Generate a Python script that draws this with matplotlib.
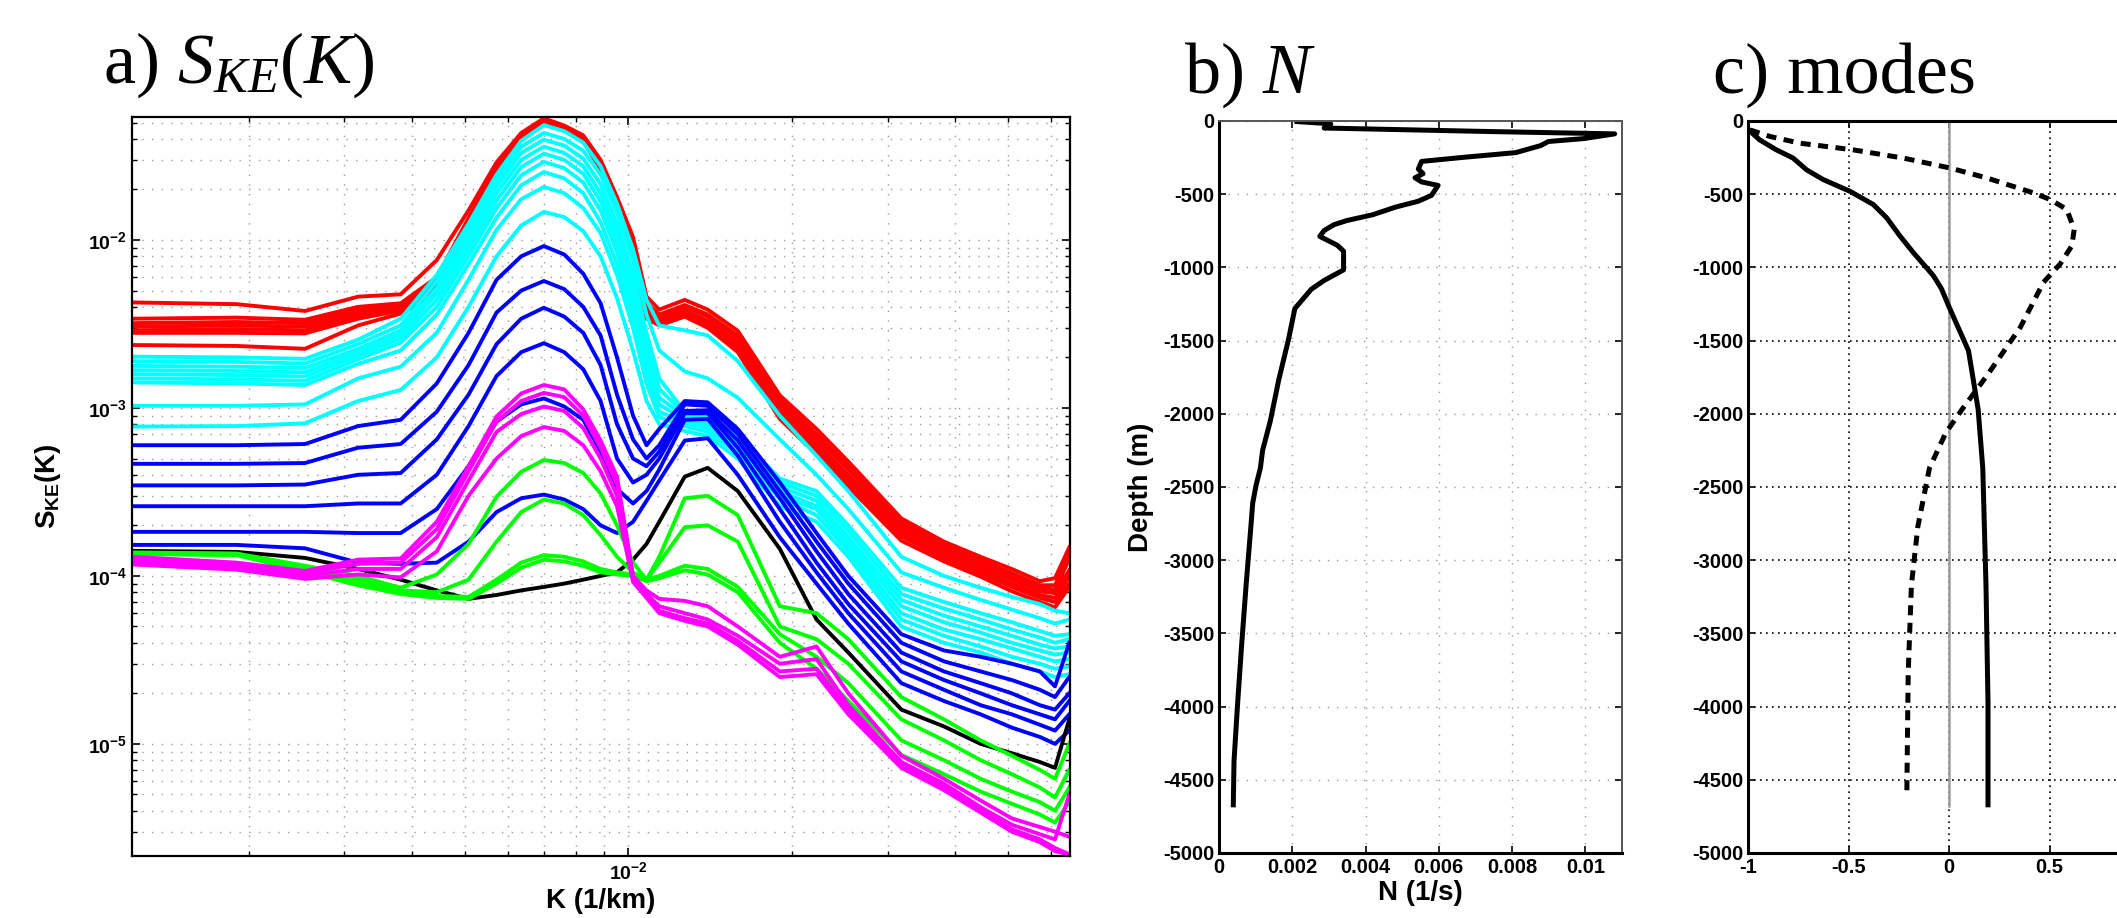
import numpy as np
import matplotlib
matplotlib.use("Agg")
import matplotlib.pyplot as plt
from matplotlib.ticker import LogLocator, FixedLocator, FuncFormatter, NullFormatter

plt.rcParams["font.family"] = "Liberation Sans"
plt.rcParams["mathtext.fontset"] = "custom"
plt.rcParams["mathtext.rm"] = "Liberation Serif"
plt.rcParams["mathtext.it"] = "Liberation Serif:italic"
plt.rcParams["mathtext.bf"] = "Liberation Sans:bold"
plt.rcParams["mathtext.fallback"] = "stix"
plt.rcParams["axes.unicode_minus"] = False

# ---- panel a: spectra S_KE(K), K in 1e-3 1/km, S in 1e-4 ----
K_SAMPLES = [1.22, 1.90, 2.54, 3.18, 3.81, 4.44, 5.08, 5.72, 6.35, 6.99,
             7.62, 8.26, 8.89, 9.53, 10.2, 10.8, 11.4, 12.7, 14.0, 15.9,
             19.0, 22.2, 25.4, 31.8, 38.1, 44.5, 50.8, 57.2, 61.0, 64.8]

RED = [
    [42.5, 41.5, 37.8, 46, 47.5, 76, 150, 290, 434, 530, 480, 420, 300, 180, 104, 46, 38.5, 44, 38.5, 28.8, 11.9, 7.5, 4.8, 2.2, 1.6, 1.3, 1.1, 0.93, 0.97, 1.48],
    [34, 34.5, 33.5, 40, 42, 60, 135, 270, 425, 525, 475, 410, 290, 170, 95, 42, 36, 41, 36, 27, 11.2, 7.0, 4.5, 2.1, 1.53, 1.24, 1.04, 0.88, 0.88, 1.35],
    [32, 32.5, 32, 38.5, 41, 58, 130, 265, 420, 522, 472, 405, 285, 165, 92, 40, 35, 40, 35, 26, 10.6, 6.6, 4.3, 2.0, 1.46, 1.19, 0.99, 0.85, 0.83, 1.26],
    [30.5, 31, 30.5, 37, 40, 56, 125, 260, 415, 518, 468, 400, 280, 160, 89, 38, 34, 38, 33, 24.5, 10.0, 6.2, 4.0, 1.9, 1.4, 1.13, 0.95, 0.81, 0.79, 1.08],
    [29, 29.5, 29, 35.5, 39, 54, 120, 255, 410, 515, 465, 395, 275, 156, 86, 37, 33, 37, 32, 23.5, 9.5, 5.9, 3.8, 1.8, 1.33, 1.08, 0.9, 0.77, 0.74, 0.99],
    [28, 28, 27.8, 34, 38, 52, 117, 250, 405, 512, 462, 390, 270, 152, 83, 36, 32, 36, 31, 22.5, 9.0, 5.6, 3.6, 1.72, 1.28, 1.04, 0.86, 0.74, 0.7, 0.9],
    [23.7, 23.4, 22.5, 31, 36.5, 48, 112, 245, 400, 510, 460, 385, 265, 148, 80, 34, 31, 35, 30, 21.5, 8.6, 5.3, 3.4, 1.62, 1.22, 0.99, 0.81, 0.7, 0.65, 0.86],
]
CYAN = [
    [20.2, 20.0, 19.6, 25.5, 34, 62, 125, 245, 390, 483, 445, 380, 275, 165, 88, 44, 31, 29, 27, 19, 9.0, 5.2, 3.2, 1.3, 1.0, 0.85, 0.75, 0.68, 0.62, 0.6],
    [19.0, 18.8, 18.4, 24, 31, 57, 115, 225, 360, 434, 400, 340, 245, 145, 75, 36, 22, 16.5, 15, 11.5, 6.5, 4.0, 2.5, 1.05, 0.85, 0.72, 0.63, 0.56, 0.52, 0.55],
    [17.8, 17.6, 17.3, 22.5, 29, 52, 105, 208, 330, 396, 365, 305, 215, 125, 62, 28, 15, 9.5, 8.8, 6.8, 3.8, 3.2, 2.0, 0.85, 0.7, 0.6, 0.53, 0.47, 0.44, 0.45],
    [16.8, 16.6, 16.3, 21.5, 27.5, 48, 96, 190, 300, 360, 330, 275, 190, 110, 54, 24, 13, 9.2, 8.5, 6.5, 3.6, 3.0, 1.85, 0.78, 0.64, 0.55, 0.48, 0.43, 0.4, 0.42],
    [15.9, 15.7, 15.4, 20.5, 26, 44, 88, 172, 272, 327, 300, 248, 170, 97, 47, 21, 11.5, 8.9, 8.2, 6.2, 3.4, 2.8, 1.7, 0.72, 0.58, 0.5, 0.44, 0.39, 0.37, 0.38],
    [15.0, 14.8, 14.5, 19.5, 24.5, 40, 80, 155, 243, 292, 268, 220, 150, 85, 41, 18.5, 10.5, 8.5, 7.9, 6.0, 3.2, 2.6, 1.6, 0.66, 0.53, 0.46, 0.4, 0.36, 0.34, 0.35],
    [14.2, 14.0, 13.7, 18.3, 22, 36, 72, 136, 212, 254, 233, 190, 128, 72, 35, 16, 9.5, 8.2, 7.6, 5.7, 3.0, 2.5, 1.5, 0.6, 0.48, 0.42, 0.37, 0.33, 0.31, 0.32],
    [10.3, 10.3, 10.5, 15, 17.6, 28, 58, 115, 175, 207, 190, 155, 110, 62, 30, 14, 8.8, 7.8, 7.2, 5.4, 2.9, 2.3, 1.4, 0.55, 0.44, 0.38, 0.33, 0.3, 0.28, 0.29],
    [7.75, 7.8, 8.1, 11.0, 12.8, 20, 40, 80, 122, 147, 137, 113, 80, 45, 22, 11, 8.0, 7.3, 6.8, 5.0, 2.6, 2.1, 1.3, 0.5, 0.4, 0.35, 0.3, 0.27, 0.25, 0.26],
]
BLUE = [
    [6.0, 6.0, 6.1, 7.8, 8.5, 14, 28, 58, 80, 92, 82, 63, 42, 20, 9.0, 6.0, 7.5, 11.0, 10.8, 7.5, 3.6, 1.8, 1.0, 0.45, 0.36, 0.33, 0.30, 0.27, 0.22, 0.40],
    [4.65, 4.65, 4.7, 5.8, 6.1, 9.5, 18, 37, 50, 57, 51, 40, 27, 12, 6.5, 5.0, 6.0, 10.5, 10.3, 7.0, 3.2, 1.6, 0.9, 0.40, 0.31, 0.27, 0.24, 0.21, 0.19, 0.25],
    [3.46, 3.46, 3.5, 4.0, 4.1, 6.5, 12, 24, 34, 39.5, 35, 28, 18, 8.0, 5.0, 4.5, 5.5, 9.6, 9.7, 6.4, 2.9, 1.4, 0.78, 0.35, 0.27, 0.23, 0.2, 0.17, 0.16, 0.2],
    [2.6, 2.6, 2.6, 2.7, 2.7, 4.0, 7.8, 15.5, 21.5, 24.3, 21.5, 17, 11, 5.0, 3.6, 4.0, 5.0, 9.3, 9.3, 5.8, 2.5, 1.2, 0.68, 0.31, 0.24, 0.2, 0.17, 0.15, 0.14, 0.18],
    [1.83, 1.83, 1.83, 1.8, 1.8, 2.5, 4.5, 8.3, 10.5, 11.4, 10.2, 8.5, 5.5, 3.3, 2.7, 3.2, 4.3, 8.5, 8.6, 5.2, 2.1, 1.05, 0.6, 0.27, 0.21, 0.17, 0.15, 0.13, 0.12, 0.15],
    [1.53, 1.53, 1.46, 1.2, 1.18, 1.2, 1.6, 2.4, 2.9, 3.05, 2.85, 2.5, 2.0, 1.8, 2.1, 2.8, 3.7, 6.4, 6.6, 4.0, 1.7, 0.9, 0.52, 0.23, 0.18, 0.15, 0.125, 0.11, 0.10, 0.12],
]
BLACK = [
    [1.41, 1.39, 1.28, 1.1, 0.95, 0.82, 0.73, 0.77, 0.82, 0.86, 0.9, 0.95, 1.0, 1.05, 1.25, 1.55, 2.1, 3.9, 4.4, 3.2, 1.45, 0.55, 0.35, 0.16, 0.127, 0.1, 0.088, 0.078, 0.072, 0.14],
]
GREEN = [
    [1.38, 1.36, 1.15, 1.0, 0.85, 1.02, 1.55, 2.96, 4.17, 4.9, 4.7, 4.1, 3.1, 2.0, 1.2, 0.95, 1.3, 2.9, 3.0, 2.3, 0.66, 0.6, 0.42, 0.19, 0.14, 0.105, 0.085, 0.07, 0.062, 0.1],
    [1.37, 1.35, 1.1, 0.95, 0.82, 0.8, 0.95, 1.6, 2.4, 2.85, 2.7, 2.3, 1.75, 1.3, 1.05, 0.95, 1.2, 1.95, 2.0, 1.6, 0.5, 0.42, 0.3, 0.14, 0.105, 0.08, 0.066, 0.055, 0.048, 0.07],
    [1.36, 1.34, 1.08, 0.9, 0.8, 0.76, 0.75, 0.95, 1.2, 1.33, 1.3, 1.22, 1.1, 1.05, 1.02, 0.95, 1.0, 1.15, 1.1, 0.86, 0.45, 0.33, 0.23, 0.105, 0.08, 0.062, 0.052, 0.045, 0.04, 0.055],
    [1.35, 1.33, 1.06, 0.88, 0.78, 0.74, 0.73, 0.9, 1.12, 1.25, 1.22, 1.15, 1.05, 1.02, 1.0, 0.93, 0.97, 1.08, 1.02, 0.8, 0.4, 0.28, 0.18, 0.086, 0.066, 0.052, 0.044, 0.038, 0.034, 0.045],
]
MAGENTA = [
    [1.30, 1.2, 1.07, 1.25, 1.27, 2.1, 4.5, 8.9, 12.2, 13.7, 12.9, 9.8, 6.4, 3.9, 1.0, 0.82, 0.73, 0.71, 0.66, 0.5, 0.33, 0.38, 0.2, 0.085, 0.062, 0.046, 0.036, 0.032, 0.03, 0.028],
    [1.26, 1.17, 1.04, 1.18, 1.2, 1.9, 4.2, 8.3, 11.0, 12.3, 11.6, 9.0, 5.8, 3.5, 0.98, 0.78, 0.66, 0.6, 0.55, 0.44, 0.3, 0.32, 0.17, 0.078, 0.058, 0.042, 0.033, 0.029, 0.027, 0.05],
    [1.22, 1.13, 1.0, 1.1, 1.1, 1.7, 3.7, 7.2, 9.2, 10.2, 9.6, 7.6, 5.0, 3.0, 0.95, 0.76, 0.62, 0.56, 0.52, 0.41, 0.27, 0.28, 0.16, 0.075, 0.055, 0.04, 0.031, 0.027, 0.024, 0.022],
    [1.17, 1.09, 0.96, 1.02, 0.98, 1.4, 3.0, 5.0, 6.8, 7.7, 7.3, 6.0, 4.2, 2.6, 0.92, 0.74, 0.6, 0.54, 0.5, 0.39, 0.25, 0.26, 0.15, 0.072, 0.053, 0.039, 0.03, 0.026, 0.023, 0.022],
]

# ---- panel b: buoyancy frequency profile ----
N_PROFILE = [0.00213, 0.00287, 0.00305, 0.00296, 0.00287, 0.00438, 0.0074, 0.0108, 0.00996, 0.00899,
             0.00878, 0.0081, 0.00668, 0.00553, 0.00544, 0.00557, 0.00535, 0.00553, 0.00598, 0.0058,
             0.00544, 0.00482, 0.0042, 0.00349, 0.00314, 0.00287, 0.00275, 0.00323, 0.0034, 0.0034,
             0.00287, 0.00252, 0.00207, 0.0019, 0.00163, 0.0014, 0.00119, 0.00113, 0.00101, 0.00092,
             0.00087, 0.00074, 0.00062, 0.00051, 0.00041, 0.00039]
Z_PROFILE = [-4, -16, -20, -40, -48, -56, -72, -88, -120, -140,
             -168, -216, -248, -276, -328, -360, -388, -416, -440, -508,
             -548, -588, -640, -680, -708, -748, -788, -849, -889, -1017,
             -1089, -1149, -1281, -1489, -1769, -2050, -2250, -2370, -2490, -2610,
             -2770, -3170, -3571, -3971, -4371, -4671]

# ---- panel c: vertical modes ----
MODE1_X = [-1.0, -0.942, -0.859, -0.776, -0.709, -0.626, -0.493, -0.377, -0.311, -0.244,
           -0.178, -0.078, -0.037, 0.0, 0.097, 0.145, 0.168, 0.184, 0.194, 0.194]
MODE1_Z = [-57, -129, -197, -253, -333, -400, -480, -570, -660, -785,
           -898, -1056, -1147, -1269, -1569, -1970, -2370, -3170, -3971, -4671]
MODE2_X = [-0.99, -0.89, -0.74, -0.477, -0.228, 0.005, 0.188, 0.42, 0.503, 0.586, 0.623, 0.611,
           0.553, 0.47, 0.355, 0.194, 0.065, -0.016, -0.097, -0.155, -0.187, -0.203, -0.21]
MODE2_Z = [-61, -106, -152, -197, -253, -321, -389, -491, -536, -604, -740, -853,
           -977, -1102, -1409, -1729, -1970, -2130, -2370, -2770, -3170, -3771, -4612]
ZERO_Z = [0, -4680]

W, H = 2117, 918
fig = plt.figure(figsize=(W / 100, H / 100), dpi=100)

def box(l, t, r, b):
    return [l / W, 1 - b / H, (r - l) / W, (b - t) / H]

TICK = dict(labelsize=14.5)

# panel a
ax = fig.add_axes(box(132, 117, 1070, 856))
K = np.array(K_SAMPLES) * 1e-3
for group, col in [(RED, "#ff0000"), (CYAN, "#00ffff"), (BLUE, "#0000ff"),
                   (BLACK, "#000000"), (GREEN, "#00ff00"), (MAGENTA, "#ff00ff")]:
    for vals in group:
        ax.plot(K, np.array(vals) * 1e-4, color=col, lw=2.8, solid_joinstyle="round")
ax.set_xscale("log")
ax.set_yscale("log")
ax.set_xlim(1.22e-3, 6.5e-2)
ax.set_ylim(2.15e-6, 5.4e-2)
for axis in (ax.xaxis, ax.yaxis):
    axis.set_major_locator(LogLocator(base=10, numticks=12))
    axis.set_minor_locator(LogLocator(base=10, subs=np.arange(2, 10), numticks=12))
    axis.set_minor_formatter(NullFormatter())
    axis.set_major_formatter(FuncFormatter(lambda v, p: r"$\mathbf{10^{%d}}$" % round(np.log10(v))))
ax.tick_params(which="both", direction="in", top=True, right=True, labelsize=14)
ax.tick_params(which="major", length=6, width=1.2)
ax.tick_params(which="minor", length=3.5, width=1)
ax.grid(which="both", color="#9a9a9a", lw=1.0, linestyle=(0, (1, 6)))
ax.set_xlabel("K (1/km)", fontsize=20, fontweight="bold", labelpad=4)
ax.set_ylabel(r"$\mathbf{S_{KE}(K)}$", fontsize=20, labelpad=18)
for s in ax.spines.values():
    s.set_linewidth(1.6)

# panel b
bx = fig.add_axes(box(1219, 121, 1622, 853))
bx.plot(N_PROFILE, Z_PROFILE, color="black", lw=3.6, solid_joinstyle="round")
bx.set_xlim(0, 0.011)
bx.set_ylim(-5000, 0)
bx.xaxis.set_major_locator(FixedLocator([0, 0.002, 0.004, 0.006, 0.008, 0.01]))
bx.set_xticklabels(["0", "0.002", "0.004", "0.006", "0.008", "0.01"])
bx.yaxis.set_major_locator(FixedLocator(np.arange(-5000, 1, 500)))
bx.tick_params(direction="in", top=True, right=True, length=5, width=1.2, **TICK)
for lab in bx.get_xticklabels() + bx.get_yticklabels():
    lab.set_fontweight("bold")
bx.grid(color="#9a9a9a", lw=1.0, linestyle=(0, (1, 5.5)))
bx.set_xlabel("N (1/s)", fontsize=20, fontweight="bold", labelpad=2)
bx.set_ylabel("Depth (m)", fontsize=20, fontweight="bold", labelpad=6)
for side in ("left", "bottom"):
    bx.spines[side].set_linewidth(2.2)
for side in ("top", "right"):
    bx.spines[side].set_linewidth(1.4)
    bx.spines[side].set_color("#555555")

# panel c (its right edge, x = 1, lies past the picture's border)
cx = fig.add_axes(box(1748, 121, 2150, 853))
cx.plot([0, 0], ZERO_Z, color="#9c9c9c", lw=1.8)
cx.plot(MODE1_X, MODE1_Z, color="black", lw=3.6, solid_joinstyle="round")
cx.plot(MODE2_X, MODE2_Z, color="black", lw=3.6, linestyle=(0, (2.0, 1.5)))
cx.set_xlim(-1, 1)
cx.set_ylim(-5000, 0)
cx.xaxis.set_major_locator(FixedLocator([-1, -0.5, 0, 0.5, 1]))
cx.set_xticklabels(["-1", "-0.5", "0", "0.5", ""])
cx.yaxis.set_major_locator(FixedLocator(np.arange(-5000, 1, 500)))
cx.tick_params(direction="in", top=True, right=True, length=5, width=1.2, **TICK)
for lab in cx.get_xticklabels() + cx.get_yticklabels():
    lab.set_fontweight("bold")
cx.grid(color="black", lw=1.2, linestyle=(0, (1, 2.6)))
for s in cx.spines.values():
    s.set_linewidth(2.2)

# panel titles
fig.text(103 / W, 1 - 83 / H, r"a) $S_{KE}(K)$", fontsize=52, family="Liberation Serif", va="baseline")
fig.text(1184 / W, 1 - 93 / H, r"b) $N$", fontsize=52, family="Liberation Serif", va="baseline")
fig.text(1713 / W, 1 - 93 / H, "c) modes", fontsize=52, family="Liberation Serif", va="baseline")

fig.savefig("out.png", dpi=100)
